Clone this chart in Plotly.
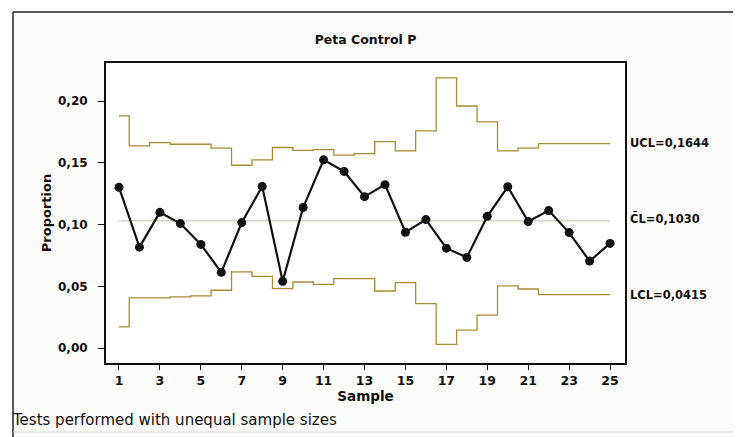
import plotly.graph_objects as go

samples = list(range(1, 26))
proportion = [0.1301, 0.0817, 0.1099, 0.1008, 0.0839, 0.0613, 0.1016, 0.1309, 0.0540, 0.1138,
              0.1524, 0.1430, 0.1226, 0.1323, 0.0938, 0.1040, 0.0809, 0.0734, 0.1067, 0.1306,
              0.1024, 0.1113, 0.0935, 0.0704, 0.0847]
ucl = [0.1880, 0.1637, 0.1664, 0.1650, 0.1650, 0.1618, 0.1480, 0.1524, 0.1624, 0.1600,
       0.1607, 0.1562, 0.1575, 0.1672, 0.1597, 0.1758, 0.2188, 0.1960, 0.1831, 0.1597,
       0.1618, 0.1655, 0.1655, 0.1655, 0.1655]
lcl = [0.0172, 0.0406, 0.0406, 0.0414, 0.0422, 0.0468, 0.0616, 0.0581, 0.0481, 0.0535,
       0.0516, 0.0562, 0.0562, 0.0462, 0.0530, 0.0360, 0.0030, 0.0145, 0.0266, 0.0503,
       0.0478, 0.0433, 0.0433, 0.0433, 0.0433]
center = 0.1030
x_ticks = list(range(1, 26, 2))
y_ticks = [0.00, 0.05, 0.10, 0.15, 0.20]
limit_labels = ["UCL=0,1644", "C\u0304L=0,1030", "LCL=0,0415"]
limit_values = [0.1644, 0.1030, 0.0415]

limit_color = "#a68c32"
font_main = "DejaVu Sans"

# The page body adds an 8 px offset; figure is sized so that it fills the window.
W, H = 733, 429
L, T, R, B = 98, 55, 116, 74
PW, PH = W - L - R, H - T - B


def px(x):
    # screen pixel x -> paper
    return (x - 8 - L) / PW


def py(y):
    # screen pixel y -> paper
    return (H - B - (y - 8)) / PH


fig = go.Figure()
fig.add_trace(go.Scatter(x=samples, y=[center] * len(samples), mode="lines",
                         line=dict(color="#b9c2a4", width=1), hoverinfo="skip"))
fig.add_trace(go.Scatter(x=samples, y=ucl, mode="lines", line_shape="hvh",
                         line=dict(color=limit_color, width=1.3)))
fig.add_trace(go.Scatter(x=samples, y=lcl, mode="lines", line_shape="hvh",
                         line=dict(color=limit_color, width=1.3)))
fig.add_trace(go.Scatter(x=samples, y=proportion, mode="lines+markers",
                         line=dict(color="#111111", width=2.2),
                         marker=dict(color="#111111", size=9)))

for lab, val in zip(limit_labels, limit_values):
    fig.add_annotation(x=1.0, xref="paper", xanchor="left", xshift=3,
                       y=val, yref="y", yshift=2, text=f"<b>{lab}</b>", showarrow=False,
                       font=dict(family=font_main, size=11.5, color="#111111"))

fig.add_shape(type="line", xref="paper", yref="paper", x0=px(13), x1=px(745),
              y0=py(12), y1=py(12), line=dict(color="#222222", width=1.5))
fig.add_shape(type="line", xref="paper", yref="paper", x0=px(13), x1=px(13),
              y0=py(12), y1=py(440), line=dict(color="#222222", width=1.5))
fig.add_shape(type="line", xref="paper", yref="paper", x0=px(13), x1=px(745),
              y0=py(432), y1=py(432), line=dict(color="#d8d8d8", width=1))

fig.add_annotation(x=px(10), xref="paper", xanchor="left", y=py(420), yref="paper",
                   yanchor="middle", text="Tests performed with unequal sample sizes",
                   showarrow=False, font=dict(family=font_main, size=15, color="#111111"))

fig.update_layout(
    width=W, height=H,
    margin=dict(l=L, r=R, t=T, b=B),
    paper_bgcolor="#fbfbf9", plot_bgcolor="#ffffff",
    showlegend=False,
    separators=",.",
    title=dict(text="<b>Peta Control P</b>", xref="paper", x=px(365.5), xanchor="center",
               yref="container", y=1 - (40 - 8) / H, yanchor="middle",
               font=dict(family=font_main, size=12.5, color="#111111")),
    font=dict(family=font_main, color="#111111"),
)
fig.update_xaxes(range=[0.365, 25.73], tickvals=x_ticks, ticktext=[f"<b>{v}</b>" for v in x_ticks],
                 ticks="outside", ticklen=5, tickcolor="#111111", showgrid=False, zeroline=False,
                 showline=True, linecolor="#111111", linewidth=2, mirror=True,
                 tickfont=dict(size=12.5),
                 title=dict(text="<b>Sample</b>", font=dict(size=13.5), standoff=2))
fig.update_yaxes(range=[-0.0121, 0.2308], tickvals=y_ticks,
                 ticktext=[f"<b>{v:.2f}</b>".replace(".", ",") for v in y_ticks],
                 ticks="outside", ticklen=6, tickcolor="#111111", showgrid=False, zeroline=False,
                 showline=True, linecolor="#111111", linewidth=2, mirror=True,
                 ticklabelstandoff=8,
                 tickfont=dict(size=12),
                 title=dict(text="<b>Proportion</b>", font=dict(size=13), standoff=3))

fig.write_html("out.html")
